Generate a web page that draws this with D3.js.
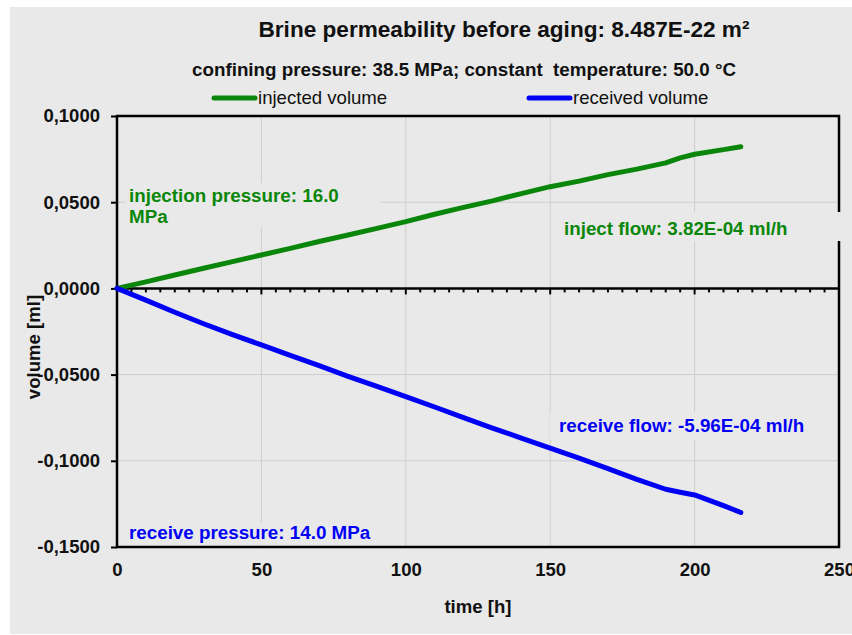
<!DOCTYPE html>
<html>
<head>
<meta charset="utf-8">
<script src="https://cdn.jsdelivr.net/npm/d3@7"></script>
<style>
  body { margin: 0; background: #fff; }
  svg text { font-family: "Liberation Sans", Arial, sans-serif; }
</style>
</head>
<body>
<div id="graph"></div>
<script>
"use strict";

// values
const hours = [0, 10, 20, 30, 40, 50, 60, 70, 80, 90, 100, 110, 120, 130, 140,
               150, 160, 170, 180, 190, 195, 200, 210, 216];
const injected = [0, 0.0038, 0.0078, 0.0117, 0.0155, 0.0194, 0.0232, 0.0272, 0.0310,
                  0.0348, 0.0387, 0.0430, 0.0470, 0.0508, 0.0550, 0.0590, 0.0622,
                  0.0660, 0.0692, 0.0728, 0.0757, 0.0778, 0.0805, 0.0822];
const received = [0, -0.0068, -0.0138, -0.0205, -0.0268, -0.0328, -0.0388, -0.0448,
                  -0.0510, -0.0568, -0.0628, -0.0688, -0.0750, -0.0810, -0.0868,
                  -0.0927, -0.0985, -0.1045, -0.1108, -0.1165, -0.1182, -0.1198,
                  -0.1260, -0.1300];
const xTicks = [0, 50, 100, 150, 200, 250];
const yTicks = [0.1, 0.05, 0, -0.05, -0.1, -0.15];
const seriesNames = ["injected volume", "received volume"];

let width = 852,
    height = 635;

const plot = { left: 117, right: 839, top: 116, bottom: 547 };
const green = "#0a870a",
      blue = "#0000f5",
      bg = "#e9e9e9";

let svg = d3.select("#graph")
    .append("svg")
    .attr("width", width)
    .attr("height", height);

svg.append("rect")
    .attr("x", 10).attr("y", 7)
    .attr("width", width - 10).attr("height", height - 8)
    .attr("fill", bg);

let x = d3.scaleLinear().domain([0, 250]).range([plot.left, plot.right]);
let y = d3.scaleLinear().domain([-0.15, 0.1]).range([plot.bottom, plot.top]);

// gridlines
svg.append("g").selectAll("line")
    .data(xTicks.slice(1, -1))
    .enter().append("line")
    .attr("x1", d => x(d)).attr("x2", d => x(d))
    .attr("y1", plot.top).attr("y2", plot.bottom)
    .attr("stroke", "#cdcdcd").attr("stroke-width", 1);

svg.append("g").selectAll("line")
    .data(yTicks.filter(d => d != 0 && d != 0.1 && d != -0.15))
    .enter().append("line")
    .attr("x1", plot.left).attr("x2", plot.right)
    .attr("y1", d => y(d)).attr("y2", d => y(d))
    .attr("stroke", "#cdcdcd").attr("stroke-width", 1);

// plot frame
svg.append("rect")
    .attr("x", plot.left).attr("y", plot.top)
    .attr("width", plot.right - plot.left).attr("height", plot.bottom - plot.top)
    .attr("fill", "none").attr("stroke", "#000").attr("stroke-width", 2.5);

// y axis ticks + labels
let yAxis = svg.append("g")
    .attr("transform", "translate(" + plot.left + ",0)")
    .call(d3.axisLeft(y).tickValues(yTicks).tickSize(6).tickPadding(11)
        .tickFormat(d => d3.format(".4f")(d).replace(".", ",").replace("−", "-")));
yAxis.select(".domain").remove();
yAxis.selectAll("line").attr("stroke-width", 2);
yAxis.selectAll("text")
    .style("font-family", "Liberation Sans, Arial, sans-serif")
    .style("font-size", "18.5px").style("font-weight", "bold").attr("fill", "#111");

// x tick labels at the bottom
let xAxis = svg.append("g")
    .attr("transform", "translate(0," + plot.bottom + ")")
    .call(d3.axisBottom(x).tickValues(xTicks).tickSize(0).tickPadding(16));
xAxis.select(".domain").remove();
xAxis.selectAll("text")
    .style("font-family", "Liberation Sans, Arial, sans-serif")
    .style("font-size", "18.5px").style("font-weight", "bold").attr("fill", "#111");

// label boxes (cover gridlines / border like in the reference)
const boxes = [
    [125, 183, 255, 44],
    [555, 212, 292, 29],
    [550, 412, 265, 28],
    [125, 522, 255, 23]
];
svg.append("g").selectAll("rect")
    .data(boxes).enter().append("rect")
    .attr("x", d => d[0]).attr("y", d => d[1])
    .attr("width", d => d[2]).attr("height", d => d[3])
    .attr("fill", bg);

function label(txt, lx, ly, color) {
    svg.append("text")
        .attr("x", lx).attr("y", ly)
        .attr("fill", color)
        .style("font-size", "18.8px").style("font-weight", "bold")
        .text(txt);
}
label("injection pressure: 16.0", 129, 202, green);
label("MPa", 129, 223, green);
label("inject flow: 3.82E-04 ml/h", 564, 235, green);
label("receive flow: -5.96E-04 ml/h", 559, 432, blue);
label("receive pressure: 14.0 MPa", 129, 539, blue);

// horizontal axis crossing at zero with minor ticks
let zero = svg.append("g");
zero.append("line")
    .attr("x1", plot.left).attr("x2", plot.right)
    .attr("y1", y(0)).attr("y2", y(0))
    .attr("stroke", "#000").attr("stroke-width", 2.5);
zero.selectAll(".minor")
    .data(d3.range(0, 251, 5))
    .enter().append("line")
    .attr("x1", d => x(d)).attr("x2", d => x(d))
    .attr("y1", y(0)).attr("y2", d => y(0) + (d % 50 == 0 ? 6 : 4))
    .attr("stroke", "#000").attr("stroke-width", 2);

// data lines
let line = d3.line()
    .x((d, i) => x(hours[i]))
    .y(d => y(d));

svg.append("path")
    .datum(injected)
    .attr("fill", "none").attr("stroke", green)
    .attr("stroke-width", 5).attr("stroke-linecap", "round").attr("stroke-linejoin", "round")
    .attr("d", line);

svg.append("path")
    .datum(received)
    .attr("fill", "none").attr("stroke", blue)
    .attr("stroke-width", 5).attr("stroke-linecap", "round").attr("stroke-linejoin", "round")
    .attr("d", line);

// titles
svg.append("text")
    .attr("x", 504).attr("y", 37)
    .attr("text-anchor", "middle").attr("fill", "#111")
    .style("font-size", "22.6px").style("font-weight", "bold")
    .text("Brine permeability before aging: 8.487E-22 m²");

svg.append("text")
    .attr("x", 464).attr("y", 76)
    .attr("text-anchor", "middle").attr("fill", "#111")
    .style("font-size", "18.8px").style("font-weight", "bold")
    .style("white-space", "pre")
    .text("confining pressure: 38.5 MPa; constant  temperature: 50.0 °C");

// legend
const legendItems = [
    { name: seriesNames[0], color: green, x0: 214 },
    { name: seriesNames[1], color: blue, x0: 529 }
];
let legend = svg.append("g");
legend.selectAll("line")
    .data(legendItems).enter().append("line")
    .attr("x1", d => d.x0).attr("x2", d => d.x0 + 41)
    .attr("y1", 98).attr("y2", 98)
    .attr("stroke", d => d.color).attr("stroke-width", 5)
    .attr("stroke-linecap", "round");
legend.selectAll("text")
    .data(legendItems).enter().append("text")
    .attr("x", d => d.x0 + 44).attr("y", 104)
    .attr("fill", "#111")
    .style("font-size", "18.6px")
    .text(d => d.name);

// axis titles
svg.append("text")
    .attr("x", 478).attr("y", 613)
    .attr("text-anchor", "middle").attr("fill", "#111")
    .style("font-size", "18.6px").style("font-weight", "bold")
    .text("time [h]");

svg.append("text")
    .attr("transform", "translate(40,347) rotate(-90)")
    .attr("text-anchor", "middle").attr("fill", "#111")
    .style("font-size", "18.6px").style("font-weight", "bold")
    .text("volume [ml]");
</script>
</body>
</html>
